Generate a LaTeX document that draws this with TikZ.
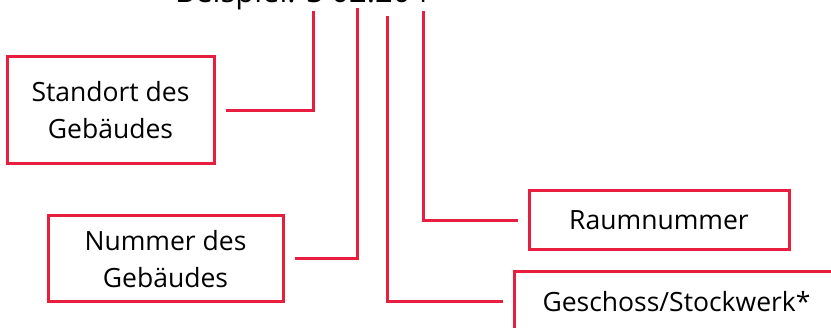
\documentclass[tikz,border=0pt]{standalone}
\usepackage{fontspec}
\setmainfont{Open Sans}
\usepackage{xcolor}
\definecolor{rojo}{RGB}{232,30,62}

\begin{document}
\begin{tikzpicture}[
    x=1pt, y=-1pt, % Un punto por píxel, eje y hacia abajo
    font=\fontsize{26.5}{37}\selectfont, % Tamaño de la fuente para las cajas
    caja/.style={draw=rojo, line width=3pt, align=center, inner sep=0pt}, % Estilo de las cajas
    enlace/.style={rojo, line width=3pt, shorten <=10pt} % Estilo de las líneas de unión
]
    % --- Área visible ---
    \useasboundingbox (0,0) rectangle (831,328);
    \clip (0,0) rectangle (831,328);

    % --- Texto del ejemplo (cortado arriba) ---
    \node[anchor=base west, inner sep=0pt, font=\fontsize{31}{37}\selectfont] (ejemplo) at (175,3) {Beispiel: S 02.204};

    % --- Extremos superiores de las líneas ---
    \coordinate (S) at (313,11); % Standort
    \coordinate (N) at (357,8);  % Nummer
    \coordinate (G) at (387,16); % Geschoss
    \coordinate (R) at (423,11); % Raumnummer

    % --- Cajas ---
    \node[caja, minimum width=207pt, minimum height=107pt] (standort) at (110.5,110.5) {Standort des\\Gebäudes};
    \node[caja, minimum width=235pt, minimum height=86pt] (nummer) at (165.5,259) {Nummer des\\Gebäudes};
    \node[caja, minimum width=260pt, minimum height=59pt] (raum) at (659,220.5) {Raumnummer};
    \node[caja, minimum width=325pt, minimum height=60pt] (geschoss) at (676.5,302) {Geschoss/Stockwerk*};

    % --- Líneas de unión ---
    \draw[enlace] (standort.east) -| (S);
    \draw[enlace] (nummer.east) -| (N);
    \draw[enlace] (raum.west) -| (R);
    \draw[enlace] (geschoss.west) -| (G);

\end{tikzpicture}
\end{document}
